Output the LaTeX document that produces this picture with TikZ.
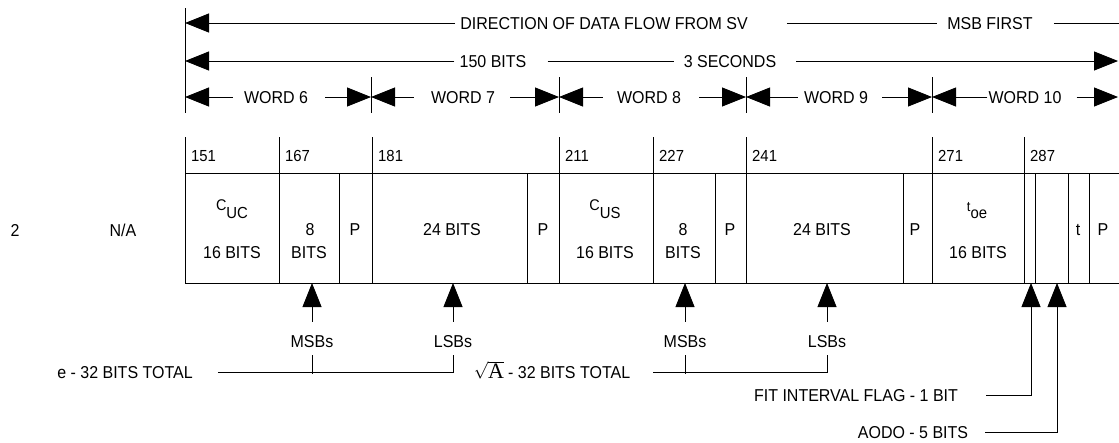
\documentclass[tikz,border=0pt]{standalone}
\usepackage{fontspec}
\setmainfont{Liberation Sans}[FakeStretch=0.93]
\newfontfamily\serifA{Liberation Serif}
\usetikzlibrary{arrows.meta}
\tikzset{
  ln/.style={line width=0.8pt},
  bigtri/.tip={Triangle[length=24pt,width=19pt]},
  txt/.style={font=\fontsize{17.2}{20}\selectfont, inner sep=0pt, text height=12.5pt, text depth=0pt},
  num/.style={font=\fontsize{16}{19}\selectfont, inner sep=0pt, text height=11.5pt, text depth=0pt, anchor=west},
}
\newcommand{\smallsub}[2]{{\fontsize{15.5}{15}\selectfont\raisebox{5pt}{#1}}{\fontsize{16}{15}\selectfont\raisebox{-3pt}{#2}}}
\begin{document}
\begin{tikzpicture}[x=1pt,y=-1pt]
\useasboundingbox (0,0) rectangle (1119,442);
% ---------- top arrows ----------
\coordinate (Ltop) at (185,8);
\coordinate (Lbot) at (185,113);
\draw[ln] (Ltop) -- (Lbot);
% row 1
\node[txt] (dir) at (604,23) {DIRECTION OF DATA FLOW FROM SV};
\node[txt] (msb) at (990,23) {MSB FIRST};
\coordinate (r1l) at (185,23);
\coordinate (r1r) at (1119,23);
\draw[ln,-{bigtri}] ([xshift=-5pt]dir.west) -- (r1l);
\draw[ln] ([xshift=39pt]dir.east) -- ([xshift=-10pt]msb.west);
\draw[ln] ([xshift=21pt]msb.east) -- (r1r);
% row 2
\node[txt] (b150) at (493,61) {150 BITS};
\node[txt] (sec) at (730,61) {3 SECONDS};
\coordinate (r2l) at (185,61);
\coordinate (r2r) at (1118,61);
\draw[ln,-{bigtri}] ([xshift=-5pt]b150.west) -- (r2l);
\draw[ln] ([xshift=21pt]b150.east) -- ([xshift=-10pt]sec.west);
\draw[ln,-{bigtri}] ([xshift=20pt]sec.east) -- (r2r);
% row 3 ticks
\foreach \n/\x in {t0/185,t1/371,t2/559,t3/746,t4/932,t5/1118}
  \coordinate (\n) at (\x,97);
\foreach \x in {371,559,746,932}
  \draw[ln] (\x,77) -- (\x,113);
\node[txt] (w6) at (276,97) {WORD 6};
\node[txt] (w7) at (463,97) {WORD 7};
\node[txt] (w8) at (649,97) {WORD 8};
\node[txt] (w9) at (836,97) {WORD 9};
\node[txt] (w10) at (1025,97) {WORD 10};
\draw[ln,-{bigtri}] ([xshift=-11pt]w6.west) -- (t0);
\draw[ln,-{bigtri}] ([xshift=17pt]w6.east) -- (t1);
\draw[ln,-{bigtri}] ([xshift=-17pt]w7.west) -- (t1);
\draw[ln,-{bigtri}] ([xshift=15pt]w7.east) -- (t2);
\draw[ln,-{bigtri}] ([xshift=-14pt]w8.west) -- (t2);
\draw[ln,-{bigtri}] ([xshift=18pt]w8.east) -- (t3);
\draw[ln,-{bigtri}] ([xshift=-6pt]w9.west) -- (t3);
\draw[ln,-{bigtri}] ([xshift=14pt]w9.east) -- (t4);
\draw[ln,-{bigtri}] ([xshift=-1pt]w10.west) -- (t4);
\draw[ln,-{bigtri}] ([xshift=15pt]w10.east) -- (t5);
% ---------- table ----------
\draw[ln] (185,173) -- (1119,173);
\draw[ln] (185,283) -- (1119,283);
\foreach \x in {185,279,372,559,653,746,932,1024}
  \draw[ln] (\x,137) -- (\x,283);
\foreach \x in {339,527,715,903,1035,1068,1089}
  \draw[ln] (\x,173) -- (\x,283);
% header numbers
\foreach \n/\x/\t in {h1/185/151,h2/279/167,h3/372/181,h4/559/211,h5/653/227,h6/746/241,h7/932/271,h8/1024/287}
  \node[num] (\n) at (\x+6,156) {\t};
% cells
\node[txt] (cuc) at (232,209) {\smallsub{C}{UC}};
\node[txt] (cuc16) at (232,252) {16 BITS};
\node[txt] (e8) at (310,229) {8};
\node[txt] (e8b) at (309,252) {BITS};
\node[txt] (p1) at (355,229) {P};
\node[txt] (e24) at (452,229) {24 BITS};
\node[txt] (p2) at (543,229) {P};
\node[txt] (cus) at (605,209) {\smallsub{C}{US}};
\node[txt] (cus16) at (605,252) {16 BITS};
\node[txt] (a8) at (683,229) {8};
\node[txt] (a8b) at (683,252) {BITS};
\node[txt] (p3) at (730,229) {P};
\node[txt] (a24) at (822,229) {24 BITS};
\node[txt] (p4) at (915,229) {P};
\node[txt] (toe) at (977,210) {{\fontsize{14}{14}\selectfont\raisebox{5pt}{t}}{\fontsize{16}{15}\selectfont\raisebox{-2pt}{oe}}};
\node[txt] (toe16) at (978,252) {16 BITS};
\node[txt] (tt) at (1078,229) {t};
\node[txt] (p5) at (1103,229) {P};
% left labels
\node[txt] (sf) at (15,230) {2};
\node[txt] (na) at (123,230) {N/A};
% ---------- bottom arrows ----------
\foreach \n/\x in {a1/312,a2/453,a3/685,a4/827,a5/1031,a6/1057}
  \coordinate (\n) at (\x,283);
\node[txt] (m1) at (312,341) {MSBs};
\node[txt] (l1) at (453,341) {LSBs};
\node[txt] (m2) at (685,341) {MSBs};
\node[txt] (l2) at (827,341) {LSBs};
\foreach \lab/\tip in {m1/a1,l1/a2,m2/a3,l2/a4}
  \draw[ln,-{bigtri}] ([yshift=13pt]\lab.north) -- (\tip);
\node[txt] (e1) at (125,372) {e - 32 BITS TOTAL};
\node[txt] (s1) at (552,372) {$\sqrt{\hbox{\serifA\fontsize{22}{22}\selectfont A}}$\kern4pt- 32 BITS TOTAL};
\draw[ln] ([xshift=25pt]e1.east) -- (l1.south |- e1.center) -- ([yshift=-8pt]l1.south);
\draw[ln] ([yshift=-8pt]m1.south) -- ([yshift=-2pt]m1.south |- e1.center);
\draw[ln] ([xshift=23pt]s1.east) -- (l2.south |- s1.center) -- ([yshift=-8pt]l2.south);
\draw[ln] ([yshift=-8pt]m2.south) -- ([yshift=-2pt]m2.south |- s1.center);
\node[txt] (f1) at (856,395) {FIT INTERVAL FLAG - 1 BIT};
\node[txt] (o1) at (913,432) {AODO - 5 BITS};
\draw[ln,-{bigtri}] ([xshift=28pt]f1.east) -- (a5 |- f1.center) -- (a5);
\draw[ln,-{bigtri}] ([xshift=17pt]o1.east) -- (a6 |- o1.center) -- (a6);
\end{tikzpicture}
\end{document}
